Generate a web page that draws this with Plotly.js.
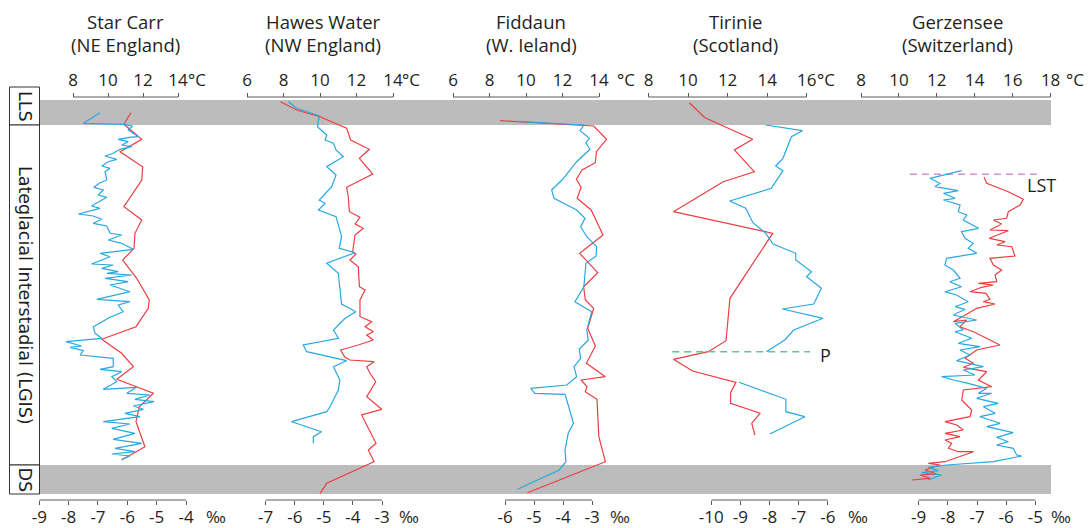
<!DOCTYPE html>
<html><head><meta charset="utf-8">
<script src="https://cdn.plot.ly/plotly-3.0.1.min.js"></script>
<style>html,body{margin:0;padding:0;background:#fff}#chart{width:1091px;height:528px}</style>
</head><body><div id="chart"></div>
<script>
// ---------------- DATA ----------------
// Shared relative depth scale (0 = top of LLS, increasing downward)
const zoneNames = ['LLS', 'Lateglacial Interstadial (LGIS)', 'DS'];
const zoneTop = [0, 25, 365];
const zoneBottom = [25, 365, 394];

// Tick labels
const starCarrTempTicks = [8, 10, 12, 14];
const starCarrIsoTicks = [-9, -8, -7, -6, -5, -4];
const hawesTempTicks = [6, 8, 10, 12, 14];
const hawesIsoTicks = [-7, -6, -5, -4, -3];
const fiddaunTempTicks = [6, 8, 10, 12, 14];
const fiddaunIsoTicks = [-6, -5, -4, -3];
const tirinieTempTicks = [8, 10, 12, 14, 16];
const tirinieIsoTicks = [-10, -9, -8, -7, -6];
const gerzenseeTempTicks = [8, 10, 12, 14, 16, 18];
const gerzenseeIsoTicks = [-9, -8, -7, -6, -5];

const siteNames = ['Star Carr', 'Hawes Water', 'Fiddaun', 'Tirinie', 'Gerzensee'];
const siteRegions = ['(NE England)', '(NW England)', '(W. Ieland)', '(Scotland)', '(Switzerland)'];

// Star Carr
const starCarrTempDepth = [12.7,24.3,39.3,51.7,66.7,80,106.7,120,133.3,148.3,160,178.3,200,208.3,226.7,239.3,253.3,266.7,279.3,287.3,293.3,306.7,321.7,346.7,360];
const starCarrTemp = [11.31,10.91,11.93,10.69,11.98,11.93,10.91,11.93,11.54,11.49,10.84,11.64,12.36,12.30,11.6,9.64,10.78,11.45,10.5,11.67,12.59,11.79,11.6,12.11,10.78];
const starCarrIsoDepth = [12.7,23.3,24.3,26,30,36.7,37.3,39.3,41.7,45,46.7,49.3,53.3,56,59.3,61.7,66,68.3,71.7,80,82.7,87.3,90,95,97.3,106,108.3,114,116,119.3,123.3,126,133.3,135,140,143.3,149.3,153.3,156.7,164,165,168.3,171.7,173.3,175,178.3,181.7,185,191.7,199.3,201.7,205,211.7,217.3,226.7,233.3,238.3,241.7,246,247.3,250.7,255,258.3,266.7,269.3,271.7,276.7,281.7,289.3,287.3,293.3,295,299.3,301.7,306,309.3,313.3,316.7,321.7,324,328.3,333.3,339.3,343.3,348.3,351.7,354,356,359.3];
const starCarrIso = [-6.93,-7.50,-6.11,-5.82,-5.97,-5.62,-5.93,-6.31,-5.97,-6.19,-5.85,-6.25,-6.48,-6.76,-6.36,-6.65,-6.87,-6.59,-6.76,-6.70,-6.93,-7.14,-6.82,-6.99,-6.70,-7.22,-6.93,-7.67,-7.16,-6.87,-7.16,-6.70,-6.59,-6.19,-6.65,-6.19,-5.80,-6.93,-6.59,-7.22,-6.48,-6.87,-6.31,-6.70,-5.85,-6.76,-5.97,-6.59,-5.91,-7.04,-5.91,-6.31,-6.14,-6.59,-7.16,-7.10,-6.87,-8.09,-7.56,-7.95,-7.50,-7.61,-6.48,-6.48,-6.93,-6.19,-6.53,-6.36,-6.82,-5.68,-6.02,-5.23,-5.74,-5.09,-5.80,-5.45,-6.08,-5.57,-6.82,-5.91,-6.53,-5.74,-6.48,-5.51,-6.42,-5.74,-6.53,-5.91,-6.19];

// Hawes Water
const hawesTempDepth = [1.7,10,16.7,28.3,40,49.3,58.3,74,87.3,96.7,111.7,117.3,124,128.3,135,151.7,154,160,166.7,186.7,190,200,216.7,221.7,226.7,231.7,235,240,245,250,257.3,260,261.7,266.7,273.3,281.7,296.7,309.3,315,343.3,350,361.7,383.3,393.5];
const hawesTemp = [7.84,8.72,10.0,11.46,11.68,12.70,12.16,12.89,11.46,11.55,11.61,12.19,11.92,12.37,11.92,11.79,11.97,11.64,12.10,12.16,12.47,12.19,12.19,12.83,12.47,12.92,12.56,12.92,12.10,11.13,11.37,11.64,12.96,12.56,12.74,13.05,12.56,13.38,12.28,13.07,12.65,12.96,10.37,10.0];
const hawesIsoDepth = [1.7,8.3,13.3,16,26.7,35,40,43.3,50,56.7,66.7,75,86.7,100,103.3,110,116.7,136.7,148.3,152.7,163.3,173.3,182.7,204,211.7,218.3,230,238.3,245,251.7,260.7,266.7,280,290,306.7,311.7,321.7,331.7,336.7,343.3];
const hawesIso = [-6.22,-5.94,-5.42,-5.16,-5.22,-4.90,-4.96,-4.67,-4.58,-4.33,-4.90,-4.58,-4.73,-5.16,-4.96,-5.19,-4.58,-4.39,-4.47,-3.93,-4.90,-4.50,-4.47,-4.39,-3.90,-4.27,-4.67,-4.50,-5.71,-5.59,-4.22,-4.67,-4.45,-4.50,-4.79,-4.90,-6.11,-5.08,-5.36,-5.36];

// Fiddaun
const fiddaunTempDepth = [20.7,26,39.3,51.7,62.7,70,79.3,87.3,98.3,110,135,153.3,172.7,186.7,200,208.3,228.3,246,263.3,276.7,280,286.7,291.7,299.3,336.7,361.7,392.7];
const fiddaunTemp = [8.58,13.71,14.41,13.86,13.80,13.07,12.76,13.02,12.80,13.57,14.22,12.94,13.93,13.16,13.25,13.71,13.38,13.80,13.31,14.35,13.02,13.34,13.25,13.89,13.99,14.35,10.08];
const fiddaunIsoDepth = [21.3,25,30.7,38.3,42.7,49.3,61.7,70,79.3,90,98.3,110,118.3,126.7,136.7,146.7,156,163.3,186.7,201.7,211.7,230,240,249.3,258.3,266.7,276.7,285,288.3,293.3,294.3,305,323.3,333.3,350,361.7,370,389.3];
const fiddaunIso = [-5.60,-3.28,-3.41,-3.09,-3.21,-3.07,-3.53,-3.76,-4.01,-4.39,-4.31,-3.53,-3.24,-3.39,-3.18,-2.84,-2.86,-3.21,-3.28,-3.59,-3.01,-3.18,-3.13,-3.44,-3.39,-3.62,-3.53,-3.87,-5.11,-4.97,-3.93,-3.82,-3.64,-3.82,-3.93,-3.90,-4.13,-5.57];

// Tirinie
const tirinieTempDepth = [2.7,17.7,39.3,50,71.7,81.7,111.7,133.3,198.3,240.7,251.7,259.3,271,282.3,292.7,303.3,313.3,323.3,335];
const tirinieTemp = [10.06,10.86,13.27,12.34,13.35,11.78,9.26,14.28,12.12,11.92,11.02,9.26,10.23,12.42,12.15,12.15,13.64,13.22,13.38];
const tirinieIsoDepth = [25,30.7,36.7,58.3,66,70.7,88.3,101,108.3,122.7,133.3,144,153.3,160,171.7,176.7,188.3,204,209,218.3,230,240,251.7,null,282.3,299.3,311.7,316.7,334];
const tirinieIso = [-8.13,-6.87,-7.25,-7.54,-7.79,-7.54,-7.94,-9.37,-8.82,-8.57,-8.13,-7.88,-7.10,-7.10,-6.56,-6.73,-6.22,-6.48,-7.56,-6.16,-7.17,-7.48,-8.11,null,-9.05,-7.44,-7.44,-6.79,-7.99];
const tirinieMarkerLabel = 'P';
const tirinieMarkerDepth = [251.7, 251.7];
const tirinieMarkerTemp = [9.20, 16.17];

// Gerzensee
const gerzenseeTempDepth = [77.3,83.3,91.7,99.3,105,111.7,118.3,120,124,130,130.7,138.3,141.7,145,146.7,156,158.3,165,170,175,181.7,183.3,185,187.3,191.7,193.3,199.3,201.7,204,208.3,213.3,216.7,221.7,220,226.7,231.7,245,250,258.3,263.3,267.3,271.7,280,286.7,288.3,290,300,310,316.7,321.7,325,330,333.3,336.7,340,343.3,348.3,351.7,351.7,361.7,363.3,365,370,374,375,378.3,380];
const gerzenseeTemp = [14.49,14.63,15.77,16.56,16.39,15.77,15.68,14.98,15.42,14.80,15.77,14.77,15.60,15.16,15.95,16.12,14.80,14.98,15.42,15.07,15.16,14.19,14.98,14.36,13.75,14.59,14.80,14.45,15.07,14.10,13.66,13.31,12.87,13.57,13.22,13.93,15.33,14.10,13.49,13.93,13.40,14.63,14.19,14.89,14.10,13.40,13.31,13.84,13.75,12.43,13.05,13.40,12.43,13.22,12.43,12.78,12.61,13.13,13.93,12.43,11.55,12.17,11.38,11.99,11.11,11.64,10.67];
const gerzenseeIsoDepth = [70.7,78.3,83.3,86.7,90.7,93.3,98.3,100,105,111.7,115,120,128.3,131.7,138.3,143.3,148.3,153.3,158.3,165,170,178.3,181.7,186.7,191.7,195,201.7,206.7,209.3,215,220,223.3,230,231.7,238.3,243.3,246.7,250,255,260.7,266.7,270,275,276.7,280,283.3,288.3,293.3,293.3,298.3,303.3,306.7,313.3,316.7,323.3,326.7,332.7,337.3,341.7,345,348.3,355,356,361.7,365,367.3,370.7,372.7,375,380];
const gerzenseeIso = [-7.53,-8.61,-8.27,-8.44,-7.64,-8.15,-7.75,-8.15,-7.58,-7.64,-7.35,-7.47,-6.95,-7.53,-7.41,-7.13,-7.30,-7.01,-8.04,-8.10,-7.81,-7.58,-7.93,-7.53,-8.10,-7.70,-7.30,-7.75,-7.41,-7.81,-7.01,-7.75,-7.47,-7.75,-7.18,-7.64,-6.90,-7.58,-7.24,-7.70,-6.78,-7.47,-7.07,-8.21,-7.81,-7.30,-6.67,-6.95,-6.50,-7.01,-6.27,-6.78,-6.38,-6.90,-6.21,-6.67,-5.76,-6.33,-5.93,-6.33,-5.76,-5.64,-5.47,-6.44,-8.04,-8.67,-8.32,-8.90,-8.21,-8.67];
const gerzenseeMarkerLabel = 'LST';
const gerzenseeMarkerDepth = [74.3, 74.3];
const gerzenseeMarkerTemp = [10.58, 17.27];

// ---------------- LAYOUT / STYLE ----------------
const W = 1091, H = 528;
const fx = p => p / W;
const fy = p => 1 - p / H;
const RED = '#ec3d40', BLUE = '#27a8e0';
const TXT = '#231f20', AXC = '#5a5a5a';
const FONT = 'Open Sans, Lato, sans-serif';
const TICK_SIZE = 17;
const TOP_POS = fy(97), BOT_POS = fy(500);

const panels = [
  {cx: 125, dom: [20, 230],
   top: {ticks: starCarrTempTicks, px: [73, 178], unitX: 197},
   bot: {ticks: starCarrIsoTicks, px: [39.3, 186], unitX: 216},
   red: [starCarrTemp, starCarrTempDepth], blue: [starCarrIso, starCarrIsoDepth]},
  {cx: 323, dom: [230, 430],
   top: {ticks: hawesTempTicks, px: [247, 393], unitX: 411},
   bot: {ticks: hawesIsoTicks, px: [265.7, 382], unitX: 409},
   red: [hawesTemp, hawesTempDepth], blue: [hawesIso, hawesIsoDepth]},
  {cx: 531, dom: [430, 640],
   top: {ticks: fiddaunTempTicks, px: [453, 599], unitX: 626},
   bot: {ticks: fiddaunIsoTicks, px: [505, 592], unitX: 620},
   red: [fiddaunTemp, fiddaunTempDepth], blue: [fiddaunIso, fiddaunIsoDepth]},
  {cx: 736, dom: [640, 850],
   top: {ticks: tirinieTempTicks, px: [648.5, 806.7], unitX: 826},
   bot: {ticks: tirinieIsoTicks, px: [711.3, 827.8], unitX: 858},
   red: [tirinieTemp, tirinieTempDepth], blue: [tirinieIso, tirinieIsoDepth],
   marker: {x: tirinieMarkerTemp, y: tirinieMarkerDepth, color: '#6cc28a', label: tirinieMarkerLabel, lx: 818, ly: 355}},
  {cx: 957, dom: [850, 1088],
   top: {ticks: gerzenseeTempTicks, px: [861, 1050.6], unitX: 1075},
   bot: {ticks: gerzenseeIsoTicks, px: [918.6, 1035.4], unitX: 1061},
   red: [gerzenseeTemp, gerzenseeTempDepth], blue: [gerzenseeIso, gerzenseeIsoDepth],
   marker: {x: gerzenseeMarkerTemp, y: gerzenseeMarkerDepth, color: '#d48fd6', label: gerzenseeMarkerLabel, lx: 1025, ly: 185}}
];

const layout = {
  width: W, height: H,
  margin: {l: 0, r: 0, t: 0, b: 0},
  paper_bgcolor: '#ffffff', plot_bgcolor: 'rgba(0,0,0,0)',
  showlegend: false,
  font: {family: FONT, color: TXT},
  yaxis: {domain: [fy(494), fy(100)], range: [394, 0], visible: false,
          fixedrange: true, anchor: 'free', position: 0},
  shapes: [], annotations: []
};
const traces = [];

// zone bands and label boxes
const boxPx = [[87, 125], [125, 465], [465, 494]];
zoneNames.forEach((z, i) => {
  if (i !== 1) {
    layout.shapes.push({type: 'rect', layer: 'below', xref: 'paper', yref: 'y',
      x0: fx(40), x1: fx(1051), y0: zoneTop[i], y1: zoneBottom[i],
      fillcolor: '#bcbcbc', line: {width: 0}});
  }
  layout.shapes.push({type: 'rect', xref: 'paper', yref: 'paper',
    x0: fx(9.5), x1: fx(39.5), y0: fy(boxPx[i][1]), y1: fy(boxPx[i][0]),
    fillcolor: '#ffffff', line: {color: '#333', width: 1}});
  layout.annotations.push({xref: 'paper', yref: 'paper', x: fx(25), y: fy((boxPx[i][0] + boxPx[i][1]) / 2),
    text: z, textangle: 90, showarrow: false, xanchor: 'center', yanchor: 'middle',
    font: {family: 'DejaVu Sans', size: 17.5, color: TXT}});
});

function mkAxis(spec, side, pos, dom) {
  const t = spec.ticks, a = t[0], b = t[t.length - 1];
  const k = (spec.px[1] - spec.px[0]) / (b - a);
  return {
    domain: [fx(dom[0]), fx(dom[1])],
    range: [a + (dom[0] - spec.px[0]) / k, a + (dom[1] - spec.px[0]) / k],
    anchor: 'free', position: pos, side: side,
    tickmode: 'array', tickvals: t, ticktext: t.map(String),
    ticks: 'outside', ticklen: 4, tickwidth: 1, tickcolor: AXC,
    ticklabelstandoff: side === 'bottom' ? -2 : 0,
    showline: false, showgrid: false, zeroline: false, fixedrange: true, automargin: false,
    tickfont: {family: FONT, size: TICK_SIZE, color: TXT}
  };
}

panels.forEach((p, i) => {
  const nT = 2 * i + 1, nB = 2 * i + 2;
  const refT = nT === 1 ? 'x' : 'x' + nT, refB = 'x' + nB;
  layout[nT === 1 ? 'xaxis' : 'xaxis' + nT] = mkAxis(p.top, 'top', TOP_POS, p.dom);
  layout['xaxis' + nB] = mkAxis(p.bot, 'bottom', BOT_POS, p.dom);
  // axis lines spanning only the labelled range
  [[p.top, refT, TOP_POS], [p.bot, refB, BOT_POS]].forEach(([s, r, pos]) => {
    layout.shapes.push({type: 'line', xref: r, yref: 'paper',
      x0: s.ticks[0], x1: s.ticks[s.ticks.length - 1], y0: pos, y1: pos,
      line: {color: AXC, width: 1}});
  });
  // unit labels
  layout.annotations.push({xref: 'paper', yref: 'paper', x: fx(p.top.unitX), y: fy(80),
    text: '°C', showarrow: false, xanchor: 'center', yanchor: 'middle',
    font: {family: FONT, size: TICK_SIZE, color: TXT}});
  layout.annotations.push({xref: 'paper', yref: 'paper', x: fx(p.bot.unitX), y: fy(516),
    text: '‰', showarrow: false, xanchor: 'center', yanchor: 'middle',
    font: {family: FONT, size: TICK_SIZE, color: TXT}});
  // titles
  layout.annotations.push({xref: 'paper', yref: 'paper', x: fx(p.cx), y: fy(21),
    text: siteNames[i], showarrow: false, xanchor: 'center', yanchor: 'middle',
    font: {family: FONT, size: 18.5, color: TXT}});
  layout.annotations.push({xref: 'paper', yref: 'paper', x: fx(p.cx), y: fy(45),
    text: siteRegions[i], showarrow: false, xanchor: 'center', yanchor: 'middle',
    font: {family: FONT, size: 18.5, color: TXT}});
  // series
  traces.push({type: 'scatter', mode: 'lines', x: p.blue[0], y: p.blue[1],
    xaxis: refB, yaxis: 'y', line: {color: BLUE, width: 1.2}, connectgaps: false, hoverinfo: 'skip'});
  traces.push({type: 'scatter', mode: 'lines', x: p.red[0], y: p.red[1],
    xaxis: refT, yaxis: 'y', line: {color: RED, width: 1.2}, hoverinfo: 'skip'});
  if (p.marker) {
    traces.push({type: 'scatter', mode: 'lines', x: p.marker.x, y: p.marker.y,
      xaxis: refT, yaxis: 'y', line: {color: p.marker.color, width: 1.6, dash: '7px,5px'}, hoverinfo: 'skip'});
    layout.annotations.push({xref: 'paper', yref: 'paper', x: fx(p.marker.lx), y: fy(p.marker.ly),
      text: p.marker.label, showarrow: false, xanchor: 'left', yanchor: 'middle',
      font: {family: FONT, size: 18, color: TXT}});
  }
});

Plotly.newPlot('chart', traces, layout, {displayModeBar: false, staticPlot: true});
</script>
</body></html>
